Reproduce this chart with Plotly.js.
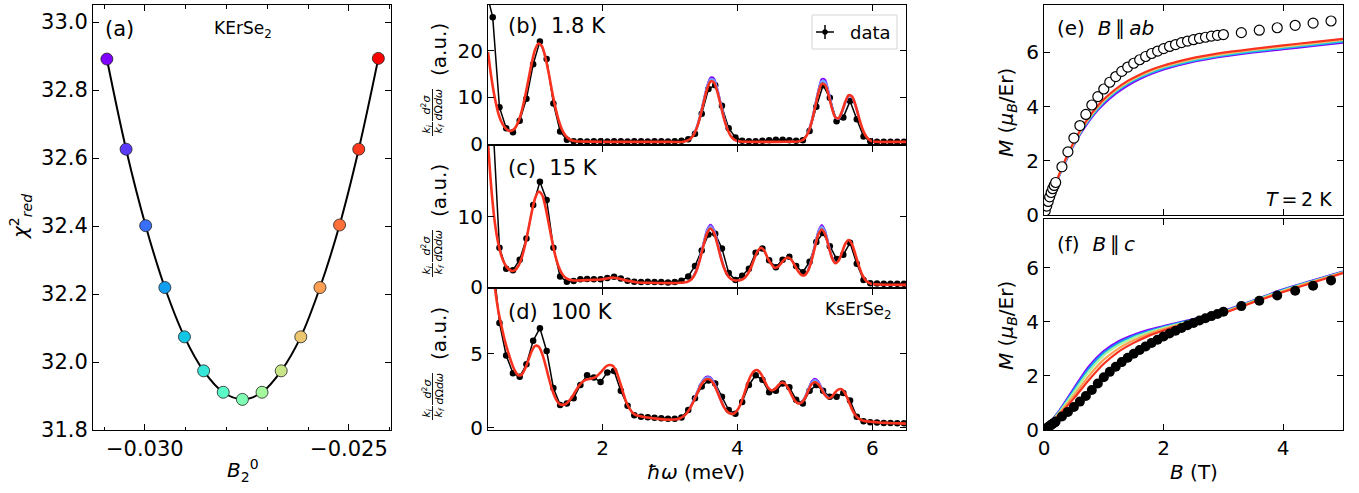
<!DOCTYPE html>
<html><head><meta charset="utf-8">
<script src="https://cdn.plot.ly/plotly-3.0.1.min.js"></script>
<style>html,body{margin:0;padding:0;background:#fff;}#chart{width:1359px;height:493px;}</style>
</head><body><div id="chart"></div>
<script>
// ---------- panel (a) ----------
const B20 = [-0.03093,-0.03046,-0.02998,-0.02951,-0.02903,-0.02856,-0.02808,-0.02761,-0.02713,-0.02666,-0.02618,-0.02571,-0.02523,-0.02476,-0.02428];
const chi2red = [32.891,32.626,32.401,32.219,32.074,31.974,31.911,31.890,31.911,31.974,32.074,32.219,32.403,32.626,32.893];
const rainbow15 = ['#8000ff','#5b39fd','#376ff9','#129ff1','#12c7e6','#37e6d8','#5bf9c7','#80ffb4','#a4f99f','#c8e688','#edc76f','#ff9f54','#ff6f39','#ff391d','#ff0000'];

// ---------- panels (b)-(d): data ----------
const E_data = [0.27,0.37,0.47,0.57,0.67,0.77,0.87,0.97,1.07,1.17,1.27,1.37,1.47,1.57,1.67,1.77,1.87,1.97,2.07,2.17,2.27,2.37,2.47,2.57,2.67,2.77,2.87,2.97,3.07,3.17,3.27,3.37,3.47,3.57,3.67,3.77,3.87,3.97,4.07,4.17,4.27,4.37,4.47,4.57,4.67,4.77,4.87,4.97,5.07,5.17,5.27,5.37,5.47,5.57,5.67,5.77,5.87,5.97,6.07,6.17,6.27,6.37,6.47];
const I_b_data = [33,27.2,7.9,3.4,2.5,5.0,9.7,17.1,22.0,18.2,8.7,2.7,0.9,0.6,
  0.6,0.55,0.6,0.6,0.55,0.6,0.6,0.55,0.6,0.6,0.55,0.6,0.6,0.55,0.6,0.7,
  1.0,2.2,6.5,11.8,12.6,8.2,3.4,1.4,0.7,0.6,0.6,0.7,0.8,0.9,0.9,0.8,0.7,0.8,
  2.8,8.0,12.6,9.9,4.9,5.7,9.2,5.3,1.6,0.6,0.5,0.5,0.5,0.5,0.5];
const I_c_data = [40,24,5.6,2.6,2.4,3.9,6.9,11.7,15.0,12.4,5.6,1.5,0.75,0.85,
  1.1,1.15,1.1,1.1,1.3,1.45,1.2,0.9,0.75,0.7,0.75,0.7,0.7,0.65,0.7,0.9,
  1.5,3.0,5.2,7.5,7.6,5.5,2.0,1.0,1.6,2.6,4.9,5.5,3.8,2.8,3.9,4.3,3.0,2.1,
  3.6,6.4,7.7,5.8,4.0,4.6,6.3,3.3,1.0,0.55,0.5,0.45,0.45,0.45,0.45];
const I_d_data = [16,11.5,7.1,4.9,3.7,3.45,4.3,5.9,6.75,5.2,2.7,1.55,1.65,2.0,
  2.9,3.55,3.4,3.1,3.75,3.85,2.5,1.5,0.85,0.75,0.72,0.68,0.65,0.62,0.62,0.7,
  1.2,2.0,2.8,3.2,3.0,2.1,1.2,0.95,1.75,2.9,3.55,3.25,2.4,2.5,3.0,2.75,1.9,1.65,
  2.5,2.9,2.5,2.1,2.1,2.35,1.85,0.75,0.45,0.38,0.35,0.33,0.32,0.3,0.3];

// ---------- panels (b)-(d): fits ----------
const E_fit_b = [0.3,0.35,0.4,0.45,0.5,0.55,0.6,0.65,0.7,0.75,0.8,0.85,0.9,0.95,1.0,1.05,1.1,1.15,1.2,1.25,1.3,1.35,1.4,1.45,1.5,1.55,1.6,
  1.8,2.2,2.6,3.0,3.2,
  3.3,3.35,3.4,3.45,3.5,3.55,3.6,3.65,3.7,3.75,3.8,3.85,3.9,3.95,4.0,
  4.1,4.3,4.6,4.8,
  4.9,4.95,5.0,5.05,5.1,5.15,5.2,5.25,5.3,5.35,5.4,5.45,5.5,5.55,5.6,5.65,5.7,5.75,5.8,5.85,5.9,5.95,6.0,
  6.1,6.3,6.5];
const I_b_fit_red = [19.75,14.25,9.95,6.75,4.71,3.53,2.89,2.82,3.4,4.75,7.05,10.2,13.8,17.45,20.3,21.55,20.95,18.6,15.2,11.3,7.8,5.0,3.0,1.8,1.1,0.75,0.6,
  0.5,0.45,0.45,0.45,0.47,
  1.08,1.97,3.58,6.02,9.0,11.78,13.39,13.21,11.28,8.4,5.47,3.19,1.73,0.97,0.63,
  0.47,0.45,0.45,0.5,
  0.52,0.71,1.26,2.47,4.67,7.76,10.92,12.87,12.68,10.55,7.75,5.77,5.53,6.97,9.04,10.45,10.21,8.38,5.78,3.42,1.81,0.98,0.61,
  0.46,0.45,0.45];
const E_fit_b_peaks = [3.35,3.4,3.45,3.5,3.55,3.6,3.65,3.7,3.75,3.8,3.85,null,5.05,5.1,5.15,5.2,5.25,5.3,5.35,5.4,5.45,5.5,5.55,5.6,5.65,5.7,5.75,5.8];
const I_b_fit_purple = [2.05,3.75,6.35,9.5,12.5,14.25,14.1,12.0,8.9,5.75,3.3,null,2.55,4.9,8.2,11.6,13.95,13.8,11.4,8.2,5.8,5.4,6.75,8.8,10.2,10.0,8.2,5.7];
const I_b_fit_cyan = [2.01,3.66,6.18,9.25,12.14,13.82,13.65,11.64,8.65,5.61,3.25,null,2.51,4.78,7.98,11.26,13.41,13.24,10.98,7.98,5.79,5.47,6.86,8.92,10.33,10.1,8.29,5.74];

const E_fit_c = [0.3,0.35,0.4,0.45,0.5,0.55,0.6,0.65,0.7,0.75,0.8,0.85,0.9,0.95,1.0,1.05,1.1,1.15,1.2,1.25,1.3,1.35,1.4,1.45,1.5,1.55,1.6,
  1.8,2.0,2.1,2.15,2.2,2.3,2.5,2.7,2.9,3.1,
  3.2,3.25,3.3,3.35,3.4,3.45,3.5,3.55,3.6,3.65,3.7,3.75,3.8,3.85,3.9,3.95,4.0,
  4.05,4.1,4.15,4.2,4.25,4.3,4.35,4.4,4.45,4.5,4.55,4.6,4.65,4.7,4.75,4.8,4.85,4.9,4.95,5.0,
  5.05,5.1,5.15,5.2,5.25,5.3,5.35,5.4,5.45,5.5,5.55,5.6,5.65,5.7,5.75,5.8,5.85,5.9,5.95,6.0,
  6.1,6.2,6.3,6.4,6.5];
const I_c_fit_red = [20.5,14.0,9.3,6.3,4.41,3.24,2.61,2.30,2.41,2.99,4.16,5.98,8.28,10.73,12.68,13.59,13.16,11.49,9.10,6.59,4.4,2.84,1.87,1.33,1.07,0.95,0.92,
  1.0,1.1,1.28,1.33,1.28,1.05,0.68,0.6,0.56,0.56,
  0.63,0.72,0.95,1.5,2.54,4.15,6.07,7.69,8.35,7.74,6.17,4.3,2.74,1.72,1.18,0.97,0.91,
  0.99,1.26,1.8,2.76,4.01,5.14,5.6,5.16,4.09,3.3,2.75,2.86,3.4,3.95,4.2,3.88,3.08,2.24,1.71,1.7,
  2.37,3.8,5.73,7.48,8.2,7.52,5.87,4.22,3.4,3.74,4.91,6.17,6.7,6.08,4.63,3.04,1.76,0.99,0.59,0.44,
  0.36,0.33,0.32,0.31,0.3];
const E_fit_c_peaks = [3.35,3.4,3.45,3.5,3.55,3.6,3.65,3.7,3.75,3.8,3.85,null,5.05,5.1,5.15,5.2,5.25,5.3,5.35,5.4,5.45];
const I_c_fit_purple = [1.55,2.65,4.4,6.45,8.2,8.9,8.25,6.55,4.5,2.85,1.75,null,2.45,4.0,6.1,8.0,8.85,8.05,6.2,4.35,3.4];
const I_c_fit_cyan = [1.52,2.6,4.28,6.26,7.95,8.63,8.0,6.36,4.4,2.8,1.74,null,2.41,3.9,5.92,7.74,8.53,7.79,6.04,4.29,3.4];

const E_fit_d = [0.3,0.35,0.4,0.45,0.5,0.55,0.6,0.65,0.7,0.75,0.8,0.85,0.9,0.95,1.0,1.05,1.1,1.15,1.2,1.25,1.3,1.35,1.4,1.45,1.5,1.55,1.6,1.65,1.7,1.75,1.8,1.85,1.9,1.95,2.0,2.05,2.1,2.15,2.2,2.25,2.3,2.35,2.4,2.45,2.5,
  2.6,2.7,2.8,2.9,3.0,3.1,
  3.15,3.2,3.25,3.3,3.35,3.4,3.45,3.5,3.55,3.6,3.65,3.7,3.75,3.8,3.85,3.9,3.95,4.0,4.05,4.1,4.15,4.2,4.25,4.3,4.35,4.4,4.45,4.5,4.55,4.6,4.65,4.7,4.75,4.8,4.85,4.9,4.95,5.0,5.05,5.1,5.15,5.2,5.25,5.3,5.35,5.4,5.45,5.5,5.55,5.6,5.65,5.7,5.75,5.8,5.85,5.9,
  6.0,6.1,6.2,6.3,6.4,6.5];
const I_d_fit_red = [14.5,11.8,9.6,8.0,6.9,5.9,5.1,4.4,3.85,3.55,3.6,4.0,4.6,5.2,5.55,5.5,5.05,4.3,3.4,2.6,2.0,1.65,1.55,1.6,1.8,2.1,2.5,2.85,3.1,3.25,3.3,3.35,3.45,3.65,3.9,4.15,4.25,4.2,3.85,3.2,2.45,1.75,1.3,1.0,0.85,
  0.75,0.68,0.62,0.57,0.55,0.58,
  0.65,0.78,1.0,1.35,1.8,2.3,2.8,3.15,3.3,3.25,2.95,2.45,1.9,1.4,1.08,0.95,0.97,1.2,1.65,2.3,3.0,3.55,3.85,3.9,3.65,3.2,2.75,2.55,2.6,2.85,3.05,3.0,2.7,2.25,1.85,1.65,1.7,2.0,2.5,2.95,3.1,2.95,2.6,2.2,2.0,2.1,2.4,2.6,2.6,2.3,1.8,1.25,0.85,0.62,0.5,0.45,
  0.4,0.36,0.33,0.31,0.3,0.28];
const E_fit_d_peaks = [3.3,3.35,3.4,3.45,3.5,3.55,3.6,3.65,3.7,3.75,3.8,null,4.95,5.0,5.05,5.1,5.15,5.2,5.25,5.3,5.35];
const I_d_fit_purple = [1.4,1.88,2.42,2.95,3.32,3.48,3.42,3.1,2.55,1.95,1.42,null,1.72,2.07,2.62,3.15,3.33,3.15,2.72,2.25,2.0];
const I_d_fit_cyan = [1.38,1.84,2.36,2.88,3.24,3.39,3.34,3.03,2.5,1.93,1.41,null,1.71,2.04,2.56,3.05,3.22,3.05,2.66,2.23,2.0];

// ---------- panel (e): B || ab ----------
const B_ab = [0.02,0.045,0.07,0.095,0.12,0.145,0.17,0.195,0.3,0.4,0.5,0.6,0.7,0.8,0.9,1.0,1.1,1.2,1.3,1.4,1.5,1.6,1.7,1.8,1.9,2.0,2.1,2.2,2.3,2.4,2.5,2.6,2.7,2.8,2.9,3.0,3.3,3.6,3.9,4.2,4.5,4.8];
const M_ab = [0.15,0.33,0.5,0.67,0.83,0.97,1.09,1.2,1.78,2.33,2.84,3.30,3.71,4.06,4.37,4.65,4.90,5.11,5.30,5.46,5.60,5.73,5.85,5.96,6.05,6.14,6.22,6.29,6.36,6.42,6.47,6.52,6.56,6.60,6.63,6.66,6.73,6.82,6.91,7.00,7.08,7.16];
const B_fit_e = [0,0.1,0.2,0.3,0.4,0.5,0.6,0.7,0.8,0.9,1.0,1.2,1.4,1.6,1.8,2.0,2.25,2.5,2.75,3.0,3.5,4.0,4.5,5.0];
const M_e_fit_purple = [0,0.58,1.15,1.68,2.15,2.58,2.96,3.3,3.6,3.87,4.1,4.48,4.78,5.02,5.21,5.37,5.53,5.66,5.76,5.85,6.0,6.12,6.24,6.36];
const M_e_fit_cyan = [0,0.59,1.17,1.7,2.18,2.62,3.0,3.35,3.65,3.92,4.16,4.54,4.84,5.07,5.26,5.42,5.57,5.7,5.8,5.89,6.04,6.16,6.28,6.41];
const M_e_fit_yellow = [0,0.59,1.18,1.73,2.22,2.66,3.05,3.4,3.71,3.98,4.22,4.6,4.9,5.13,5.32,5.47,5.62,5.75,5.85,5.94,6.09,6.21,6.33,6.46];
const M_e_fit_red = [0,0.6,1.2,1.75,2.25,2.7,3.1,3.45,3.76,4.03,4.27,4.65,4.95,5.18,5.37,5.52,5.67,5.8,5.9,5.99,6.13,6.26,6.38,6.5];

// ---------- panel (f): B || c ----------
const B_c = [0.02,0.045,0.07,0.095,0.12,0.145,0.17,0.195,0.3,0.4,0.5,0.6,0.7,0.8,0.9,1.0,1.1,1.2,1.3,1.4,1.5,1.6,1.7,1.8,1.9,2.0,2.1,2.2,2.3,2.4,2.5,2.6,2.7,2.8,2.9,3.0,3.3,3.6,3.9,4.2,4.5,4.8];
const M_c = [0.03,0.07,0.11,0.15,0.19,0.23,0.27,0.31,0.5,0.67,0.85,1.05,1.26,1.48,1.72,1.95,2.15,2.34,2.51,2.67,2.82,2.96,3.09,3.22,3.34,3.46,3.57,3.67,3.77,3.87,3.96,4.05,4.13,4.21,4.29,4.37,4.58,4.78,4.97,5.15,5.33,5.53];
const B_fit_f = [0,0.25,0.5,0.75,1.0,1.25,1.5,1.75,2.0,2.25,2.5,2.75,3.0,3.5,4.0,4.5,5.0];
const M_f_fit_purple = [0,0.7,1.54,2.35,2.92,3.28,3.52,3.7,3.84,3.97,4.1,4.24,4.4,4.79,5.2,5.53,5.86];
const M_f_fit_blue = [0,0.67,1.48,2.27,2.85,3.22,3.47,3.66,3.81,3.95,4.08,4.22,4.38,4.78,5.18,5.52,5.85];
const M_f_fit_green = [0,0.64,1.4,2.16,2.76,3.14,3.41,3.61,3.78,3.92,4.06,4.2,4.36,4.76,5.16,5.5,5.83];
const M_f_fit_orange = [0,0.6,1.28,2.0,2.6,3.02,3.32,3.55,3.73,3.89,4.03,4.18,4.34,4.74,5.13,5.48,5.82];
const M_f_fit_red = [0,0.55,1.17,1.85,2.45,2.9,3.22,3.48,3.68,3.85,4.0,4.16,4.32,4.72,5.1,5.45,5.8];

// ---------- sanity ----------
[[E_data,I_b_data],[E_data,I_c_data],[E_data,I_d_data],[E_fit_b,I_b_fit_red],[E_fit_c,I_c_fit_red],[E_fit_d,I_d_fit_red],
 [E_fit_b_peaks,I_b_fit_purple],[E_fit_b_peaks,I_b_fit_cyan],[E_fit_c_peaks,I_c_fit_purple],[E_fit_c_peaks,I_c_fit_cyan],
 [E_fit_d_peaks,I_d_fit_purple],[E_fit_d_peaks,I_d_fit_cyan],[B_ab,M_ab],[B_c,M_c],[B_fit_e,M_e_fit_red],[B_fit_f,M_f_fit_red]
].forEach((p,i)=>{ if(p[0].length!==p[1].length) throw new Error('length mismatch '+i+': '+p[0].length+' vs '+p[1].length); });

// ---------- styles ----------
const W = 1359, H = 493;
const PX = p => p / W, PY = p => 1 - p / H;
const FONT = 'DejaVu Sans';
const RED = '#f8321f', PURPLE = '#8000ff', CYAN = '#12c7e6', LIGHTBLUE = '#6fa3ff';

const traces = [];
// (a)
traces.push({x:B20, y:chi2red, xaxis:'x', yaxis:'y', mode:'lines+markers',
  line:{color:'#000', width:2, shape:'spline', smoothing:1},
  marker:{size:12, color:rainbow15, line:{color:'#222', width:0.8}}});

function inelastic(xa, ya, Idata, Efit, Ired, Epk, Ipurple, Icyan) {
  traces.push({x:E_data, y:Idata, xaxis:xa, yaxis:ya, mode:'lines+markers',
    line:{color:'#000', width:1.5}, marker:{size:6.5, color:'#000'}});
  traces.push({x:Epk, y:Ipurple, xaxis:xa, yaxis:ya, mode:'lines', line:{color:PURPLE, width:1.8, shape:'spline', smoothing:0.8}});
  traces.push({x:Epk, y:Icyan, xaxis:xa, yaxis:ya, mode:'lines', line:{color:LIGHTBLUE, width:2.6, shape:'spline', smoothing:0.8}});
  traces.push({x:Efit, y:Ired, xaxis:xa, yaxis:ya, mode:'lines', line:{color:RED, width:2.6, shape:'spline', smoothing:0.8}});
}
inelastic('x2','y2', I_b_data, E_fit_b, I_b_fit_red, E_fit_b_peaks, I_b_fit_purple, I_b_fit_cyan);
inelastic('x3','y3', I_c_data, E_fit_c, I_c_fit_red, E_fit_c_peaks, I_c_fit_purple, I_c_fit_cyan);
inelastic('x4','y4', I_d_data, E_fit_d, I_d_fit_red, E_fit_d_peaks, I_d_fit_purple, I_d_fit_cyan);

// (e)
[[M_e_fit_purple,PURPLE],[M_e_fit_cyan,CYAN],[M_e_fit_yellow,'#edc76f'],[M_e_fit_red,RED]].forEach(([m,c])=>{
  traces.push({x:B_fit_e, y:m, xaxis:'x5', yaxis:'y5', mode:'lines', line:{color:c, width:2.2, shape:'spline', smoothing:0.8}});
});
traces.push({x:B_ab, y:M_ab, xaxis:'x5', yaxis:'y5', mode:'markers',
  marker:{size:10, color:'#fff', line:{color:'#000', width:1.2}}});
// (f)
[[M_f_fit_purple,PURPLE],[M_f_fit_blue,'#129ff1'],[M_f_fit_green,'#a4f99f'],[M_f_fit_orange,'#ff9f54'],[M_f_fit_red,RED]].forEach(([m,c])=>{
  traces.push({x:B_fit_f, y:m, xaxis:'x6', yaxis:'y6', mode:'lines', line:{color:c, width:2.2, shape:'spline', smoothing:0.8}});
});
traces.push({x:B_c, y:M_c, xaxis:'x6', yaxis:'y6', mode:'markers', marker:{size:10, color:'#000'}});

const ax = (extra) => Object.assign({
  showline:true, linecolor:'#000', linewidth:1, mirror:'allticks',
  ticks:'inside', ticklen:6, tickwidth:1, tickcolor:'#000',
  showgrid:false, zeroline:false, fixedrange:true,
  tickfont:{family:FONT, size:20, color:'#000'}
}, extra);

const dx_a = [PX(93), PX(391)];
const dx_bd = [PX(488), PX(906)];
const dx_ef = [PX(1044), PX(1343)];

const layout = {
  width:W, height:H, margin:{l:0,r:0,t:0,b:0}, paper_bgcolor:'#fff', plot_bgcolor:'#fff',
  showlegend:false, font:{family:FONT, color:'#000'},
  xaxis: ax({domain:dx_a, anchor:'y', range:[-0.03127,-0.02397], tick0:-0.03, dtick:0.005, tickformat:'.3f',
    tickfont:{family:FONT, size:21, color:'#000'},
    minor:{dtick:0.001, tick0:-0.03, ticks:'inside', ticklen:3.5, tickcolor:'#000', tickwidth:1}}),
  yaxis: ax({domain:[PY(430), PY(5)], anchor:'x', range:[31.8,33.05], dtick:0.2, tickformat:'.1f',
    tickfont:{family:FONT, size:21, color:'#000'}}),
  xaxis2: ax({domain:dx_bd, anchor:'y2', range:[0.3,6.5], tick0:0, dtick:2, showticklabels:false}),
  yaxis2: ax({domain:[PY(144), PY(5)], anchor:'x2', range:[0,29.8], tickmode:'array', tickvals:[0,10,20]}),
  xaxis3: ax({domain:dx_bd, anchor:'y3', range:[0.3,6.5], tick0:0, dtick:2, showticklabels:false}),
  yaxis3: ax({domain:[PY(287), PY(146)], anchor:'x3', range:[0,20.1], tickmode:'array', tickvals:[0,10]}),
  xaxis4: ax({domain:dx_bd, anchor:'y4', range:[0.3,6.5], tick0:0, dtick:2}),
  yaxis4: ax({domain:[PY(430), PY(289)], anchor:'x4', range:[-0.15,9.4], tickmode:'array', tickvals:[0,5]}),
  xaxis5: ax({domain:dx_ef, anchor:'y5', range:[0,5], dtick:2, showticklabels:false}),
  yaxis5: ax({domain:[PY(215), PY(5)], anchor:'x5', range:[0,7.75], dtick:2}),
  xaxis6: ax({domain:dx_ef, anchor:'y6', range:[0,5], dtick:2}),
  yaxis6: ax({domain:[PY(430), PY(219)], anchor:'x6', range:[0,7.8], dtick:2}),
  annotations:[], shapes:[]
};

function ann(text, px, py, size, extra) {
  layout.annotations.push(Object.assign({xref:'paper', yref:'paper', x:PX(px), y:PY(py), text:text,
    showarrow:false, xanchor:'center', yanchor:'middle', font:{family:FONT, size:size, color:'#000'}}, extra||{}));
}
function vline(px, py0, py1, w) {
  layout.shapes.push({type:'line', xref:'paper', yref:'paper', x0:PX(px), x1:PX(px), y0:PY(py0), y1:PY(py1),
    line:{color:'#000', width:w||0.9}});
}

// axis titles
ann('<i>χ</i><sup>2</sup><sub><i>red</i></sub>', 21, 217, 20, {textangle:-90});
ann('<i>B</i><sub>2</sub><sup>0</sup>', 243, 470, 20);
ann('<i>ħω</i> (meV)', 696, 472, 20);
ann('<i>B</i> (T)', 1194, 472, 20);
ann('<i>M</i> (<i>μ</i><sub><i>B</i></sub>/Er)', 1007, 113, 20, {textangle:-90});
ann('<i>M</i> (<i>μ</i><sub><i>B</i></sub>/Er)', 1007, 326, 20, {textangle:-90});

// (b)-(d) y labels: k_i/k_f d²σ/dΩdω (a.u.)
[5, 146, 289].forEach(T => {
  ann('<i>k<sub>i</sub></i>', 426.5, T+124, 11, {textangle:-90});
  ann('<i>k<sub>f</sub></i>', 438.5, T+124, 11, {textangle:-90});
  vline(432.5, T+117, T+131);
  ann('<i>d</i><sup>2</sup><i>σ</i>', 426.5, T+100, 11, {textangle:-90});
  ann('<i>d</i>Ω<i>dω</i>', 438.5, T+100, 11, {textangle:-90});
  vline(432.5, T+84, T+116);
  ann('(a.u.)', 439, T+45, 20, {textangle:-90});
});

// panel labels
ann('(a)', 103, 29, 21, {xanchor:'left'});
ann('KErSe<sub>2</sub>', 243, 30, 17);
ann('(b)\u00a0\u00a01.8 K', 506, 26, 21, {xanchor:'left'});
ann('(c)\u00a0\u00a015 K', 506, 168, 21, {xanchor:'left'});
ann('(d)\u00a0\u00a0100 K', 506, 312, 21, {xanchor:'left'});
ann('KsErSe<sub>2</sub>', 894, 310, 17, {xanchor:'right'});
ann('(e)\u00a0\u00a0<i>B</i>\u2009∥\u2009<i>ab</i>', 1055, 28, 20, {xanchor:'left'});
ann('<i>T</i>\u2009=\u20092 K', 1334, 199, 19, {xanchor:'right'});
ann('(f)\u00a0\u00a0<i>B</i>\u2009∥\u2009<i>c</i>', 1055, 244, 20, {xanchor:'left'});

// legend box in (b)
layout.shapes.push({type:'rect', xref:'paper', yref:'paper', x0:PX(812), x1:PX(897), y0:PY(49), y1:PY(15),
  line:{color:'#d5d5d5', width:1}, fillcolor:'rgba(255,255,255,0.85)'});
layout.shapes.push({type:'line', xref:'paper', yref:'paper', x0:PX(816), x1:PX(834), y0:PY(32), y1:PY(32), line:{color:'#000', width:1.5}});
layout.shapes.push({type:'line', xref:'paper', yref:'paper', x0:PX(825), x1:PX(825), y0:PY(25), y1:PY(39), line:{color:'#000', width:1.5}});
layout.shapes.push({type:'circle', xref:'paper', yref:'paper', x0:PX(822.3), x1:PX(827.7), y0:PY(34.7), y1:PY(29.3), line:{color:'#000', width:0}, fillcolor:'#000'});
ann('data', 848, 32, 18, {xanchor:'left'});

Plotly.newPlot('chart', traces, layout, {staticPlot:true, displayModeBar:false});
</script>
</body></html>
